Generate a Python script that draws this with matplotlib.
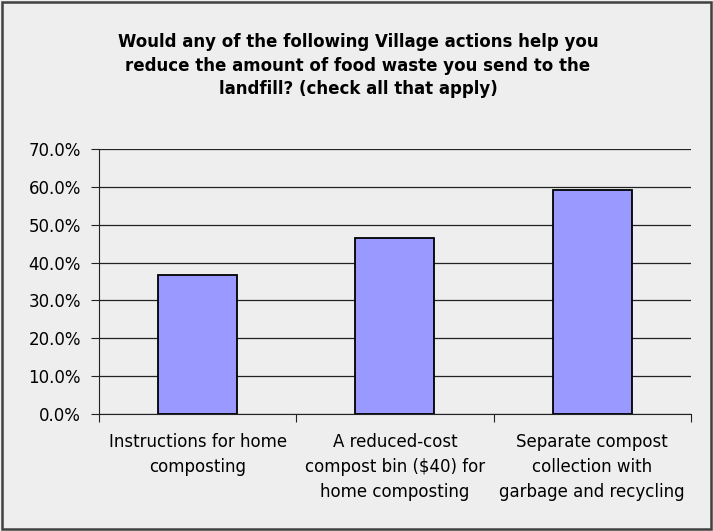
import matplotlib
matplotlib.use("Agg")
import matplotlib.pyplot as plt
from matplotlib.patches import Rectangle
from matplotlib.ticker import PercentFormatter

categories = ["Instructions for home\ncomposting",
              "A reduced-cost\ncompost bin ($40) for\nhome composting",
              "Separate compost\ncollection with\ngarbage and recycling"]
values = [36.8, 46.6, 59.2]
title = ("Would any of the following Village actions help you\n"
         "reduce the amount of food waste you send to the\n"
         "landfill? (check all that apply)")

bg = "#EEEEEE"
fig = plt.figure(figsize=(7.13, 5.31), dpi=100, facecolor=bg)
ax = fig.add_axes([0.1388, 0.2203, 0.9691 - 0.1388, 0.7194 - 0.2203])
ax.set_facecolor(bg)

x = list(range(len(categories)))
ax.bar(x, values, width=0.4, color="#9999FF", edgecolor="black", linewidth=1.3, zorder=3)

ax.set_ylim(0, 70)
ax.set_xlim(-0.5, 2.5)
ax.set_yticks(range(0, 71, 10))
ax.yaxis.set_major_formatter(PercentFormatter(decimals=1))
ax.grid(axis="y", color="#222222", linewidth=0.9, zorder=0)
ax.set_axisbelow(True)

ax.set_xticks([-0.5, 0.5, 1.5, 2.5])
ax.set_xticklabels([])
ax.set_xticks(x, minor=True)
ax.set_xticklabels(categories, minor=True, fontsize=12, linespacing=1.5)
ax.tick_params(axis="x", which="minor", length=0, pad=14)
ax.tick_params(axis="x", which="major", length=6, direction="out", color="#222222")
ax.tick_params(axis="y", length=6, direction="out", labelsize=12, pad=7, color="#222222")

for s in ["top", "right"]:
    ax.spines[s].set_visible(False)
ax.spines["left"].set_color("#222222")
ax.spines["bottom"].set_color("#222222")

fig.text(0.502, 0.938, title, ha="center", va="top", fontsize=12, fontweight="bold",
         linespacing=1.4)

fig.patches.append(Rectangle((0.003, 0.003), 0.994, 0.994, transform=fig.transFigure,
                             fill=False, edgecolor="#404040", linewidth=1.8))

fig.savefig("out.png", dpi=100, facecolor=bg)
